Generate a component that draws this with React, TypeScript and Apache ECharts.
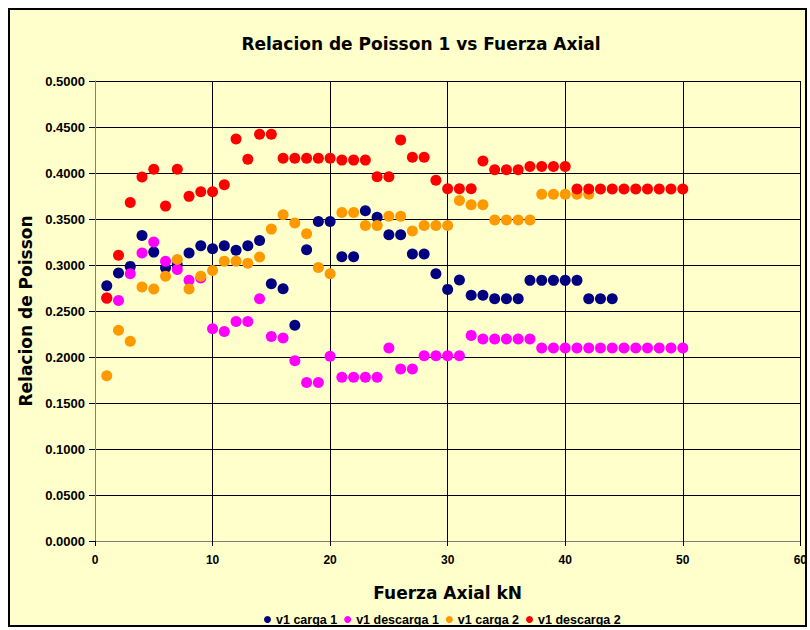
import React, { useEffect, useRef } from "react";
import * as echarts from "echarts";

const fuerza = [1,2,3,4,5,6,7,8,9,10,11,12,13,14,15,16,17,18,19,20,21,22,23,24,25,26,27,28,29,30,31,32,33,34,35,36,37,38,39,40,41,42,43,44,45,46,47,48,49,50];

const carga1 = [0.2775,0.2913,0.2985,0.332,0.314,0.297,0.300,0.313,0.321,0.3177,
  0.321,0.316,0.321,0.3267,0.2797,0.2742,0.2344,0.3166,0.3474,0.3474,
  0.309,0.309,0.359,0.352,0.333,0.333,0.312,0.312,0.2905,0.2735,
  0.2837,0.267,0.267,0.2634,0.2634,0.2634,0.2833,0.2833,0.2833,0.2833,
  0.2833,0.2634,0.2634,0.2634];

const descarga1 = [0.264,0.2615,0.2905,0.313,0.325,0.304,0.295,0.2833,0.286,0.2308,
  0.2278,0.2387,0.2387,0.2634,0.2224,0.2207,0.196,0.1724,0.1724,0.2007,
  0.178,0.178,0.178,0.178,0.2098,0.187,0.187,0.2014,0.2014,0.2014,
  0.2014,0.2235,0.2196,0.2196,0.2196,0.2196,0.2196,0.2098,0.2098,0.2098,
  0.2098,0.2098,0.2098,0.2098,0.2098,0.2098,0.2098,0.2098,0.2098,0.2098];

const carga2 = [0.1797,0.229,0.217,0.276,0.274,0.2877,0.306,0.274,0.2877,0.294,
  0.304,0.304,0.302,0.3087,0.339,0.3547,0.3457,0.334,0.2974,0.2905,
  0.357,0.357,0.343,0.343,0.353,0.353,0.337,0.343,0.343,0.343,
  0.370,0.3655,0.3655,0.349,0.349,0.349,0.349,0.377,0.377,0.377,
  0.377,0.377];

const descarga2 = [0.264,0.3105,0.368,0.3957,0.404,0.364,0.404,0.3746,0.3797,0.3797,
  0.3873,0.437,0.415,0.442,0.442,0.416,0.416,0.416,0.416,0.416,
  0.414,0.414,0.414,0.396,0.396,0.436,0.417,0.417,0.392,0.383,
  0.383,0.383,0.413,0.4036,0.4036,0.4036,0.407,0.407,0.407,0.407,
  0.3826,0.3826,0.3826,0.3826,0.3826,0.3826,0.3826,0.3826,0.3826,0.3826];

const seriesNames = ["v1 carga 1", "v1 descarga 1", "v1 carga 2", "v1 descarga 2"];
const seriesValues = [carga1, descarga1, carga2, descarga2];
const seriesColors = ["#000080", "#FF00FF", "#FF9900", "#FF0000"];

const FONT = "'DejaVu Sans', Arial, sans-serif";
const LFONT = "'Liberation Sans', Arial, sans-serif";

export default function App() {
  const ref = useRef<HTMLDivElement>(null);
  useEffect(() => {
    if (!ref.current) return;
    const chart = echarts.init(ref.current, null, { renderer: "svg" });
    chart.setOption({
      animation: false,
      backgroundColor: "#FFFFFF",
      graphic: [
        {
          type: "rect",
          z: -10,
          silent: true,
          shape: { x: 9, y: 9, width: 797, height: 617 },
          style: { fill: "#FFFFCC", stroke: "#000000", lineWidth: 2 },
        },
      ],
      title: {
        text: "Relacion de Poisson 1 vs Fuerza Axial",
        left: 416,
        textAlign: "center",
        top: 30,
        textStyle: { fontFamily: FONT, fontWeight: "bold", fontSize: 17, color: "#000" },
      },
      legend: {
        data: seriesNames,
        top: 608,
        left: 259,
        icon: "circle",
        itemWidth: 7,
        itemHeight: 7,
        itemGap: 7,
        textStyle: { fontFamily: LFONT, fontWeight: "bold", fontSize: 12.5, color: "#000" },
      },
      grid: { left: 95, right: 5, top: 81, bottom: 89, containLabel: false },
      xAxis: {
        type: "value",
        min: 0,
        max: 60,
        interval: 10,
        name: "Fuerza Axial kN",
        nameLocation: "middle",
        nameGap: 43,
        nameTextStyle: { fontFamily: FONT, fontWeight: "bold", fontSize: 17, color: "#000" },
        axisLine: { show: true, lineStyle: { color: "#808080", width: 1 } },
        axisTick: { show: true, inside: false, length: 5, lineStyle: { color: "#000" } },
        axisLabel: { fontFamily: LFONT, fontWeight: "bold", fontSize: 12, color: "#000", margin: 13 },
        splitLine: { show: true, lineStyle: { color: "#000", width: 1 } },
      },
      yAxis: {
        type: "value",
        min: 0,
        max: 0.5,
        interval: 0.05,
        name: "Relacion de Poisson",
        nameLocation: "middle",
        nameGap: 50,
        nameRotate: 90,
        nameTextStyle: { fontFamily: FONT, fontWeight: "bold", fontSize: 17, color: "#000" },
        axisLine: { show: true, lineStyle: { color: "#808080", width: 1 } },
        axisTick: { show: true, inside: false, length: 6, lineStyle: { color: "#000" } },
        axisLabel: {
          fontFamily: LFONT,
          fontWeight: "bold",
          fontSize: 13,
          color: "#000",
          margin: 10,
          formatter: (v: number) => v.toFixed(4),
        },
        splitLine: { show: true, lineStyle: { color: "#000", width: 1 } },
      },
      series: seriesNames.map((name, i) => ({
        name,
        type: "scatter",
        symbol: "circle",
        symbolSize: 11,
        itemStyle: { color: seriesColors[i], opacity: 1 },
        data: seriesValues[i].map((v, j) => [fuerza[j], v]),
      })),
    });
    return () => chart.dispose();
  }, []);
  return (
    <div
      ref={ref}
      style={{ position: "fixed", left: 0, top: 0, width: 810, height: 630 }}
    />
  );
}
